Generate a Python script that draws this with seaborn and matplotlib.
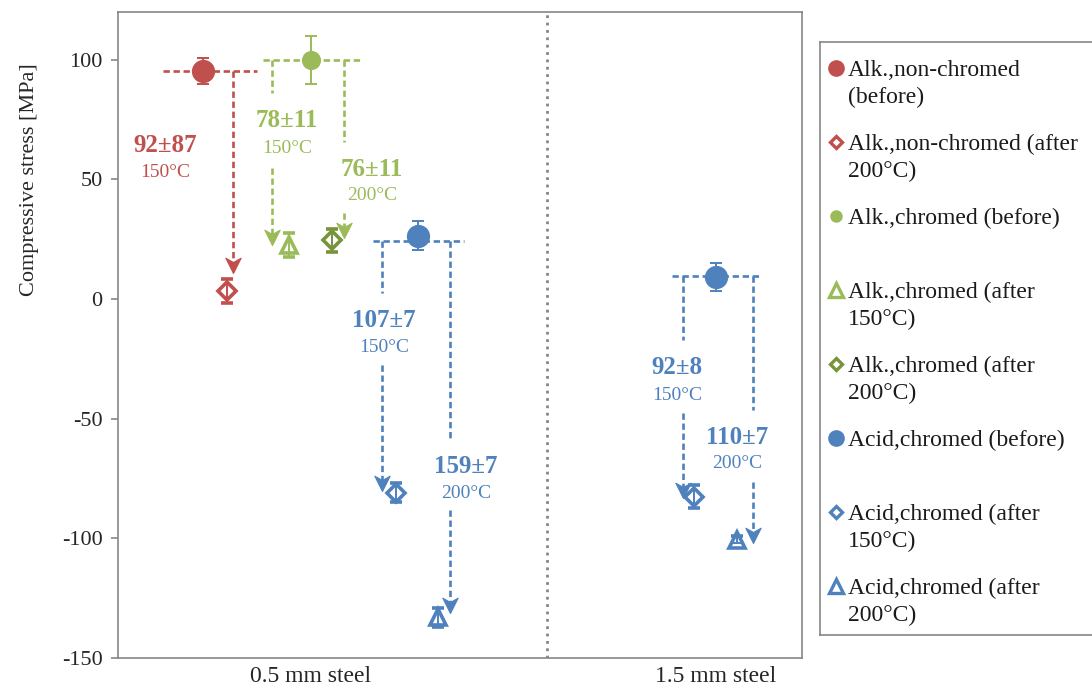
import matplotlib
matplotlib.use("Agg")
import matplotlib.pyplot as plt
from matplotlib.path import Path
import seaborn as sns

sns.set_theme(style="white")
plt.rcParams['font.family'] = ['Liberation Serif', 'DejaVu Serif']
plt.rcParams['axes.unicode_minus'] = False

# ---------------- data ----------------
categories = ['0.5 mm steel', '1.5 mm steel']
category_x = [2.81, 8.74]
divider_x = 6.27
y_ticks = [-150, -100, -50, 0, 50, 100]

# series: x position, stress value, error
alk_nc_before_x, alk_nc_before_y, alk_nc_before_e = [1.24], [95.3], [5.5]
alk_nc_after200_x, alk_nc_after200_y, alk_nc_after200_e = [1.60], [3.4], [5.0]
alk_c_before_x, alk_c_before_y, alk_c_before_e = [2.82], [100.0], [10.0]
alk_c_after150_x, alk_c_after150_y, alk_c_after150_e = [2.50], [22.5], [5.0]
alk_c_after200_x, alk_c_after200_y, alk_c_after200_e = [3.13], [24.5], [5.0]
acid_before_x, acid_before_y, acid_before_e = [4.39, 8.74], [26.5, 9.3], [6.0, 6.0]
acid_after150_x, acid_after150_y, acid_after150_e = [4.06, 8.42], [-81.0, -82.5], [4.0, 5.0]
acid_after200_x, acid_after200_y, acid_after200_e = [4.68, 9.05], [-133.0, -100.5], [4.0, 1.5]

series_labels = ['Alk.,non-chromed\n(before)', 'Alk.,non-chromed (after\n200°C)',
                 'Alk.,chromed (before)', 'Alk.,chromed (after\n150°C)',
                 'Alk.,chromed (after\n200°C)', 'Acid,chromed (before)',
                 'Acid,chromed (after\n150°C)', 'Acid,chromed (after\n200°C)']

# change annotations
change_values = ['92±87', '78±11', '76±11', '107±7', '159±7', '92±8', '110±7']
change_temps = ['150°C', '150°C', '200°C', '150°C', '200°C', '150°C', '200°C']
change_label_x = [0.69, 2.47, 3.71, 3.89, 5.09, 8.17, 9.05]
change_label_y = [64.4, 74.8, 54.3, -8.8, -69.8, -28.4, -57.7]
change_temp_y = [53.1, 63.1, 43.1, -20.1, -81.1, -40.1, -68.6]

# connectors: horizontal bracket per group
bracket_x0 = [0.66, 2.12, 3.73, 8.10]
bracket_x1 = [2.03, 3.54, 5.06, 9.42]
bracket_y = [95.3, 100.0, 24.2, 9.6]
# vertical arrows: x, top, gap start, gap end, tip
arrow_x = [1.68, 2.25, 3.30, 3.86, 4.85, 8.26, 9.28]
arrow_top = [95.3, 100.0, 100.0, 24.2, 24.2, 9.6, 9.6]
arrow_gap0 = [None, 86.0, 65.6, 2.5, -59.0, -17.0, -46.4]
arrow_gap1 = [None, 55.0, 36.0, -27.6, -88.0, -47.7, -76.5]
arrow_tip = [10.9, 22.5, 25.5, -80.0, -131.0, -83.0, -102.0]

RED = '#C0504D'
GREEN = '#9BBB59'
DGREEN = '#77933C'
BLUE = '#4F81BD'
GRAY = '#868686'
bracket_colors = [RED, GREEN, BLUE, BLUE]
arrow_colors = [RED, GREEN, GREEN, BLUE, BLUE, BLUE, BLUE]
label_colors = [RED, GREEN, GREEN, BLUE, BLUE, BLUE, BLUE]

# stealth arrow head marker (tip at origin, pointing down)
stealth = Path([(0, 0), (0.5, 1.0), (0, 0.72), (-0.5, 1.0), (0, 0)],
               [Path.MOVETO, Path.LINETO, Path.LINETO, Path.LINETO, Path.CLOSEPOLY])

# ---------------- figure ----------------
fig = plt.figure(figsize=(10.92, 6.91), dpi=100)
ax = fig.add_axes([118/1092, 33/691, 684/1092, 646/691])
ax.set_xlim(0, 10)
ax.set_ylim(-150, 120)

dash = (0, (2.4, 1.4))
lw = 1.9

# brackets
for x0, x1, y, c in zip(bracket_x0, bracket_x1, bracket_y, bracket_colors):
    ax.plot([x0, x1], [y, y], color=c, lw=lw, ls=dash, zorder=2)

# arrows
for x, top, g0, g1, tip, c in zip(arrow_x, arrow_top, arrow_gap0, arrow_gap1, arrow_tip, arrow_colors):
    if g0 is None:
        ax.plot([x, x], [top, tip + 3], color=c, lw=lw, ls=dash, zorder=2)
    else:
        ax.plot([x, x], [top, g0], color=c, lw=lw, ls=dash, zorder=2)
        ax.plot([x, x], [g1, tip + 3], color=c, lw=lw, ls=dash, zorder=2)
    ax.plot([x], [tip], marker=stealth, ms=22, mfc=c, mec=c, mew=0.8,
            ls='none', zorder=3)

# labels
for lx, ly, ty, v, t, c in zip(change_label_x, change_label_y, change_temp_y,
                               change_values, change_temps, label_colors):
    ax.text(lx, ly, v, color=c, fontsize=18, fontweight='bold', ha='center', va='center', zorder=5)
    ax.text(lx, ty, t, color=c, fontsize=14, ha='center', va='center', zorder=5)

# error bars + open markers
eb_kw = dict(capsize=4, elinewidth=1.4, capthick=1.4, zorder=3)
ax.errorbar(alk_nc_before_x, alk_nc_before_y, yerr=alk_nc_before_e, fmt='none', ecolor=RED, **eb_kw)
ax.errorbar(alk_c_before_x, alk_c_before_y, yerr=alk_c_before_e, fmt='none', ecolor=GREEN, **eb_kw)
ax.errorbar(acid_before_x, acid_before_y, yerr=acid_before_e, fmt='none', ecolor=BLUE, **eb_kw)

open_series = [
    (alk_nc_after200_x, alk_nc_after200_y, alk_nc_after200_e, RED, 'D', 9),
    (alk_c_after150_x, alk_c_after150_y, alk_c_after150_e, GREEN, '^', 12),
    (alk_c_after200_x, alk_c_after200_y, alk_c_after200_e, DGREEN, 'D', 9),
    (acid_after150_x, acid_after150_y, acid_after150_e, BLUE, 'D', 9),
    (acid_after200_x, acid_after200_y, acid_after200_e, BLUE, '^', 12),
]
for xs, ys, es, c, m, ms in open_series:
    ax.errorbar(xs, ys, yerr=es, fmt=m, ms=ms, mfc='white', mec=c, mew=2.6,
                color=c, **eb_kw)
    ax.errorbar(xs, ys, yerr=es, fmt='none', ecolor=c, capsize=4, elinewidth=1.4,
                capthick=1.4, zorder=4)

# filled "before" markers
sns.scatterplot(x=alk_nc_before_x, y=alk_nc_before_y, ax=ax, s=280, color=RED,
                edgecolor=RED, linewidth=0, zorder=5)
sns.scatterplot(x=alk_c_before_x, y=alk_c_before_y, ax=ax, s=190, color=GREEN,
                edgecolor=GREEN, linewidth=0, zorder=5)
sns.scatterplot(x=acid_before_x, y=acid_before_y, ax=ax, s=280, color=BLUE,
                edgecolor=BLUE, linewidth=0, zorder=5)

# divider
ax.axvline(divider_x, color=GRAY, ls=':', lw=2, zorder=1)

# axes styling
ax.set_yticks(y_ticks)
ax.set_xticks(category_x, categories)
ax.tick_params(axis='x', length=0, pad=6, labelsize=17, bottom=False)
ax.tick_params(axis='y', length=5, width=1.2, color=GRAY, direction='out',
               labelsize=16, left=True, pad=6)
for sp in ax.spines.values():
    sp.set_color(GRAY)
    sp.set_linewidth(1.2)
ax.set_ylabel('Compressive stress [MPa]', fontsize=16)
ax.yaxis.set_label_coords(-0.115, 0.74)

# ---------------- legend (manual) ----------------
lax = fig.add_axes([820/1092, 56/691, 300/1092, 593/691])
lax.set_xlim(0, 300)
lax.set_ylim(593, 0)
lax.set_xticks([])
lax.set_yticks([])
for sp in lax.spines.values():
    sp.set_color(GRAY)
    sp.set_linewidth(1.2)

leg_styles = [
    dict(marker='o', ms=12, mfc=RED, mec=RED, mew=0),
    dict(marker='D', ms=6.5, mfc='white', mec=RED, mew=2.4),
    dict(marker='o', ms=9, mfc=GREEN, mec=GREEN, mew=0),
    dict(marker='^', ms=9.5, mfc='white', mec=GREEN, mew=2.4),
    dict(marker='D', ms=6.5, mfc='white', mec=DGREEN, mew=2.4),
    dict(marker='o', ms=12, mfc=BLUE, mec=BLUE, mew=0),
    dict(marker='D', ms=6.5, mfc='white', mec=BLUE, mew=2.4),
    dict(marker='^', ms=9.5, mfc='white', mec=BLUE, mew=2.4),
]
for i, (lab, st) in enumerate(zip(series_labels, leg_styles)):
    yy = 26 + 74 * i
    lax.plot([16], [yy], ls='none', **st)
    for j, line in enumerate(lab.split('\n')):
        lax.text(28, yy + 27 * j, line, fontsize=17, va='center_baseline', ha='left',
                 color='#1a1a1a')

fig.savefig('out.png', dpi=100)
